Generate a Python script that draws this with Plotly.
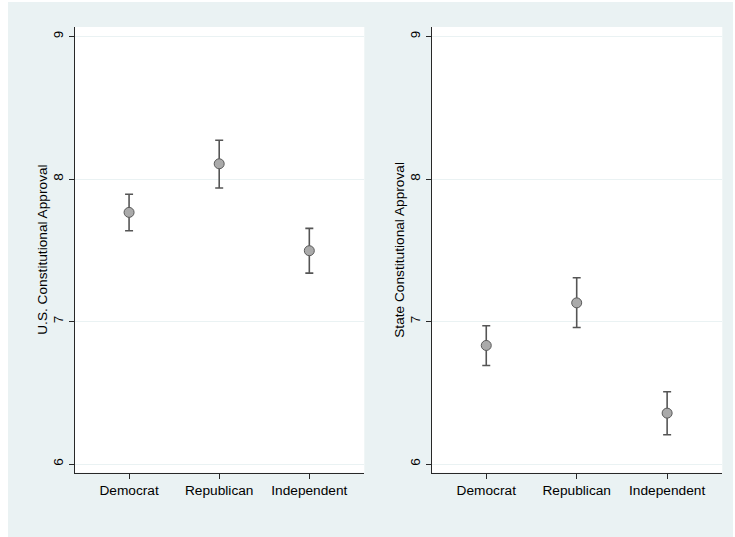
import plotly.graph_objects as go

categories = ["Democrat", "Republican", "Independent"]

us_mean = [7.766, 8.107, 7.497]
us_lower = [7.637, 7.937, 7.340]
us_upper = [7.893, 8.272, 7.654]

state_mean = [6.832, 7.131, 6.357]
state_lower = [6.691, 6.958, 6.205]
state_upper = [6.970, 7.307, 6.507]

y_ticks = [6, 7, 8, 9]
y_titles = ["U.S. Constitutional Approval", "State Constitutional Approval"]

BG = "rgb(234,242,243)"
W, H = 735, 537
FONT = "Liberation Sans, Arial, Helvetica, sans-serif"

fig = go.Figure()

panels = [(us_mean, us_lower, us_upper), (state_mean, state_lower, state_upper)]
for i, (m, lo, hi) in enumerate(panels):
    suffix = "" if i == 0 else "2"
    fig.add_trace(go.Scatter(
        x=categories, y=m, mode="markers",
        xaxis="x" + suffix, yaxis="y" + suffix,
        marker=dict(symbol="circle", size=10, color="rgb(170,170,170)",
                    line=dict(color="rgb(90,90,90)", width=1)),
        error_y=dict(type="data", symmetric=False,
                     array=[h - v for h, v in zip(hi, m)],
                     arrayminus=[v - l for v, l in zip(m, lo)],
                     color="rgb(85,85,85)", thickness=1.6, width=4),
        showlegend=False, hoverinfo="skip",
    ))

px = lambda v: v / W
py = lambda v: 1 - v / H

x_domains = [[px(75), px(364.3)], [px(432), px(722.3)]]
y_domain = [py(472.7), py(27)]

axis_common = dict(showline=True, linecolor="rgb(40,40,40)", linewidth=1.2,
                   ticks="outside", ticklen=5, tickcolor="rgb(40,40,40)", tickwidth=1,
                   automargin=False, zeroline=False, mirror=False)

layout = dict(
    width=W, height=H,
    margin=dict(l=0, r=0, t=0, b=0),
    paper_bgcolor=BG, plot_bgcolor="white",
    font=dict(family=FONT, color="black"),
    template="none",
    showlegend=False,
)
for i in range(2):
    suffix = "" if i == 0 else "2"
    layout["xaxis" + suffix] = dict(
        domain=x_domains[i], anchor="y" + suffix, type="category",
        range=[-0.6, 2.61], showgrid=False,
        tickfont=dict(size=13.7, family=FONT), **axis_common)
    layout["yaxis" + suffix] = dict(
        domain=y_domain, anchor="x" + suffix, range=[5.939, 9.067],
        tickvals=y_ticks, ticktext=[str(t) for t in y_ticks], tickangle=-90,
        showgrid=True, gridcolor=BG, gridwidth=1,
        tickfont=dict(size=13.5, family=FONT), ticklabelstandoff=1, **axis_common)
fig.update_layout(**layout)

title_x = [43, 400]
for i in range(2):
    fig.add_annotation(text=y_titles[i], x=px(title_x[i]), y=py(249.8),
                       xref="paper", yref="paper", textangle=-90,
                       xanchor="center", yanchor="middle", showarrow=False,
                       font=dict(size=13.7, family=FONT, color="black"))

# thin white margins around the outer graph region
for x0, x1, y0, y1 in [(-0.01, px(8), -0.01, 1.01), (-0.01, 1.01, py(2), 1.01),
                       (px(733), 1.01, -0.01, 1.01)]:
    fig.add_shape(type="rect", xref="paper", yref="paper", x0=x0, x1=x1, y0=y0, y1=y1,
                  fillcolor="white", line=dict(width=0), layer="above")

fig.write_html("out.html",
               config={"displayModeBar": False},
               post_script="document.body.style.margin='0px';"
                           "document.body.style.overflow='hidden';")
